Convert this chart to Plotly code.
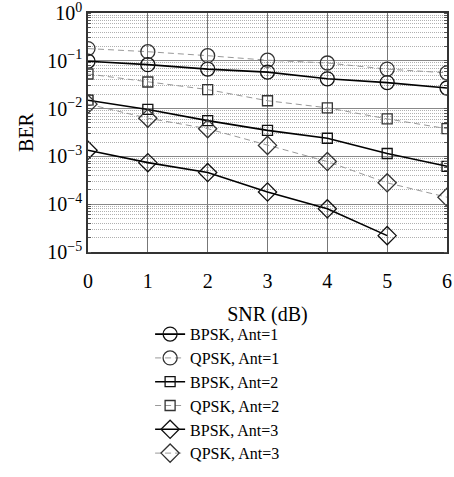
import plotly.graph_objects as go

snr = [0, 1, 2, 3, 4, 5, 6]
bpsk_ant1 = [0.098, 0.083, 0.067, 0.058, 0.042, 0.035, 0.027]
qpsk_ant1 = [0.18, 0.155, 0.128, 0.103, 0.09, 0.067, 0.056]
bpsk_ant2 = [0.015, 0.0096, 0.0056, 0.0035, 0.0024, 0.00115, 0.00062]
qpsk_ant2 = [0.053, 0.036, 0.025, 0.0146, 0.0104, 0.0061, 0.0038]
bpsk_ant3 = [0.00135, 0.00074, 0.00046, 0.00018, 0.00008, 0.000022, None]
qpsk_ant3 = [0.0124, 0.0063, 0.0038, 0.0017, 0.00078, 0.00028, 0.00014]

y_tickvals = [1e-5, 1e-4, 1e-3, 1e-2, 1e-1, 1]
y_ticktext = ["10<sup>−5</sup>", "10<sup>−4</sup>", "10<sup>−3</sup>",
              "10<sup>−2</sup>", "10<sup>−1</sup>", "10<sup>0</sup>"]

series = [
    ("BPSK, Ant=1", bpsk_ant1, "solid", "circle-open"),
    ("QPSK, Ant=1", qpsk_ant1, "dash", "circle-open"),
    ("BPSK, Ant=2", bpsk_ant2, "solid", "square-open"),
    ("QPSK, Ant=2", qpsk_ant2, "dash", "square-open"),
    ("BPSK, Ant=3", bpsk_ant3, "solid", "diamond-open"),
    ("QPSK, Ant=3", qpsk_ant3, "dash", "diamond-open"),
]

FONT = "Liberation Serif"
fig = go.Figure()
for name, vals, dash, sym in series:
    solid = dash == "solid"
    size = {"circle-open": 14, "square-open": 10, "diamond-open": 14}[sym]
    fig.add_trace(go.Scatter(
        x=snr, y=vals, name=name, mode="lines+markers",
        line=dict(color="black" if solid else "#999999", width=1.6 if solid else 1.0,
                  dash="solid" if solid else "6px,4px"),
        marker=dict(symbol=sym, size=size, color="#111111" if solid else "#333333",
                    line=dict(width=1.3)),
    ))

fig.update_layout(
    width=454, height=477,
    margin=dict(l=88, r=7, t=13, b=222),
    paper_bgcolor="white", plot_bgcolor="white",
    font=dict(family=FONT, size=18, color="black"),
    showlegend=True,
    legend=dict(x=0.173, y=-0.913, xanchor="left", yanchor="bottom",
                font=dict(family=FONT, size=16), tracegroupgap=0,
                itemwidth=30, bgcolor="rgba(0,0,0,0)"),
)
fig.update_xaxes(
    range=[0, 6], dtick=1, tick0=0, automargin=False,
    showgrid=True, gridcolor="#777777", gridwidth=1,
    showline=True, linecolor="#333333", linewidth=1.5, mirror=True,
    ticks="", zeroline=False, ticklabelstandoff=10,
    tickfont=dict(family=FONT, size=20),
    title=dict(text="SNR (dB)", font=dict(family=FONT, size=20), standoff=16),
)
fig.update_yaxes(
    type="log", range=[-5, 0], tickmode="array", tickvals=y_tickvals, ticktext=y_ticktext,
    automargin=False, ticklabeloverflow="allow",
    showgrid=True, gridcolor="#888888", gridwidth=1.3,
    showline=True, linecolor="#333333", linewidth=1.5, mirror="allticks",
    ticks="", zeroline=False,
    tickfont=dict(family=FONT, size=20),
    minor=dict(showgrid=True, gridcolor="#b0b0b0", griddash="1px,1px", gridwidth=1,
               ticks="inside", ticklen=3, tickcolor="#555555", dtick="D1"),
    title=dict(text="BER", font=dict(family=FONT, size=20), standoff=8),
)

fig.write_html("out.html")
